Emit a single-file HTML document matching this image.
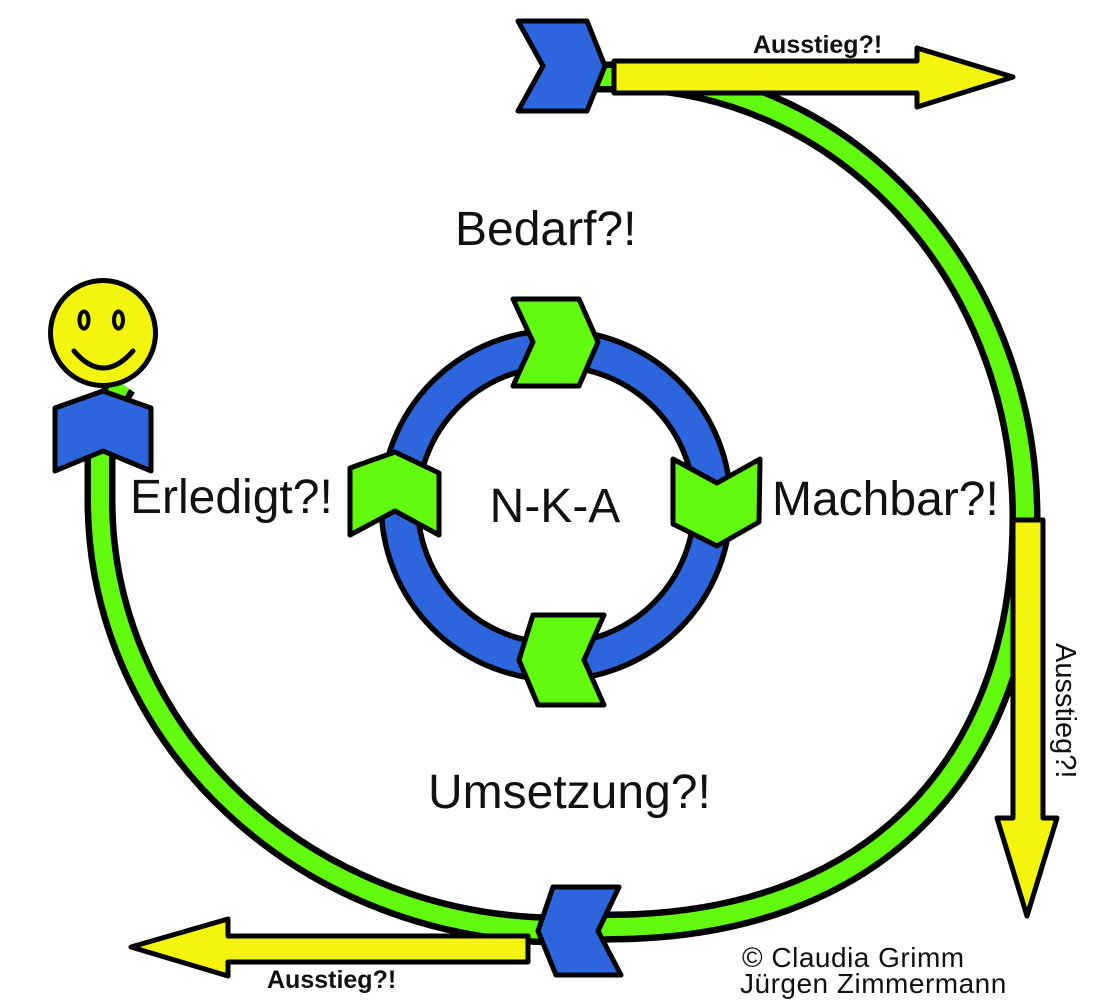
<!DOCTYPE html>
<html>
<head>
<meta charset="utf-8">
<style>
  html, body { margin: 0; padding: 0; background: #ffffff; }
  body { width: 1106px; height: 1002px; overflow: hidden; }
  svg { display: block; }
  .lbl { font-family: "Liberation Sans", Arial, sans-serif; font-size: 48px; fill: #111; }
  .aus { font-family: "Liberation Sans", Arial, sans-serif; font-size: 25px; font-weight: bold; fill: #111; }
  .copy { font-family: "Liberation Sans", Arial, sans-serif; font-size: 28px; letter-spacing: 0.5px; fill: #111; }
</style>
</head>
<body>
<svg width="1106" height="1002" viewBox="0 0 1106 1002" xmlns="http://www.w3.org/2000/svg">
  <rect width="1106" height="1002" fill="#ffffff"/>

  <!-- Outer spiral band -->
  <path d="M 555 77 L 620 77 A 405 440 0 0 1 1025 517 C 1025 770 870 927 610 927 L 560 930 A 460 430 0 0 1 100 500 L 100 460 Q 101 415 122 384"
        fill="none" stroke="#000" stroke-width="31"/>
  <path d="M 555 77 L 620 77 A 405 440 0 0 1 1025 517 C 1025 770 870 927 610 927 L 560 930 A 460 430 0 0 1 100 500 L 100 460 Q 101 415 122 384"
        fill="none" stroke="#62fa0e" stroke-width="18"/>

  <!-- Yellow exit arrows -->
  <polygon points="614,61 917,61 917,48 1013,77 917,107 917,93 614,93"
           fill="#f3f50f" stroke="#000" stroke-width="5" stroke-linejoin="round"/>
  <polygon points="1013,520 1043,520 1043,818 1057,818 1027,916 997,818 1013,818"
           fill="#f3f50f" stroke="#000" stroke-width="5" stroke-linejoin="round"/>
  <polygon points="528,936 228,936 228,919 131,947 228,976 228,962 528,962"
           fill="#f3f50f" stroke="#000" stroke-width="5" stroke-linejoin="round"/>

  <!-- Blue chevrons on outer band -->
  <polygon points="518,21 587,21 605,66 587,111 518,111 543,66"
           fill="#2c65dc" stroke="#000" stroke-width="5" stroke-linejoin="round"/>
  <polygon points="553,887 619,887 598,931 621,975 556,975 538,931"
           fill="#2c65dc" stroke="#000" stroke-width="5" stroke-linejoin="round"/>
  <polygon points="55,408 103,391 151,408 151,471 103,451 55,471"
           fill="#2c65dc" stroke="#000" stroke-width="5" stroke-linejoin="round"/>

  <!-- Smiley -->
  <circle cx="103" cy="333" r="52.5" fill="#f3f50f" stroke="#000" stroke-width="5"/>
  <ellipse cx="84" cy="320" rx="4.5" ry="8.5" fill="#f3f50f" stroke="#000" stroke-width="4"/>
  <ellipse cx="118.5" cy="320" rx="4.5" ry="8.5" fill="#f3f50f" stroke="#000" stroke-width="4"/>
  <path d="M 74 351 Q 103 385 133 351" fill="none" stroke="#000" stroke-width="5" stroke-linecap="round"/>

  <!-- Inner ring -->
  <circle cx="556" cy="505" r="156.5" fill="none" stroke="#000" stroke-width="42"/>
  <circle cx="556" cy="505" r="156.5" fill="none" stroke="#2c65dc" stroke-width="31"/>

  <!-- Inner green chevrons -->
  <polygon points="513,299 579,299 598,342 579,386 513,386 533,342"
           fill="#62fa0e" stroke="#000" stroke-width="5" stroke-linejoin="round"/>
  <polygon points="673,459 717,483 760,459 759,522 717,546 673,524"
           fill="#62fa0e" stroke="#000" stroke-width="5" stroke-linejoin="round"/>
  <polygon points="533,615 604,615 584,660 604,705 538,705 519,660"
           fill="#62fa0e" stroke="#000" stroke-width="5" stroke-linejoin="round"/>
  <polygon points="350,468 395,452 439,473 439,535 395,511 350,535"
           fill="#62fa0e" stroke="#000" stroke-width="5" stroke-linejoin="round"/>

  <!-- Labels -->
  <text class="lbl" x="455" y="245">Bedarf?!</text>
  <text class="lbl" x="772" y="515">Machbar?!</text>
  <text class="lbl" x="130" y="513">Erledigt?!</text>
  <text class="lbl" x="428" y="808">Umsetzung?!</text>
  <text class="lbl" x="555" y="522" text-anchor="middle">N-K-A</text>

  <text class="aus" x="753" y="53">Ausstieg?!</text>
  <text class="aus" x="267" y="988">Ausstieg?!</text>
  <text font-family="'Liberation Sans', Arial, sans-serif" font-size="29" fill="#111"
        transform="translate(1056,643) rotate(90)">Ausstieg?!</text>

  <text class="copy" x="742" y="967">© Claudia Grimm</text>
  <text class="copy" x="740" y="993">Jürgen Zimmermann</text>
</svg>
</body>
</html>
